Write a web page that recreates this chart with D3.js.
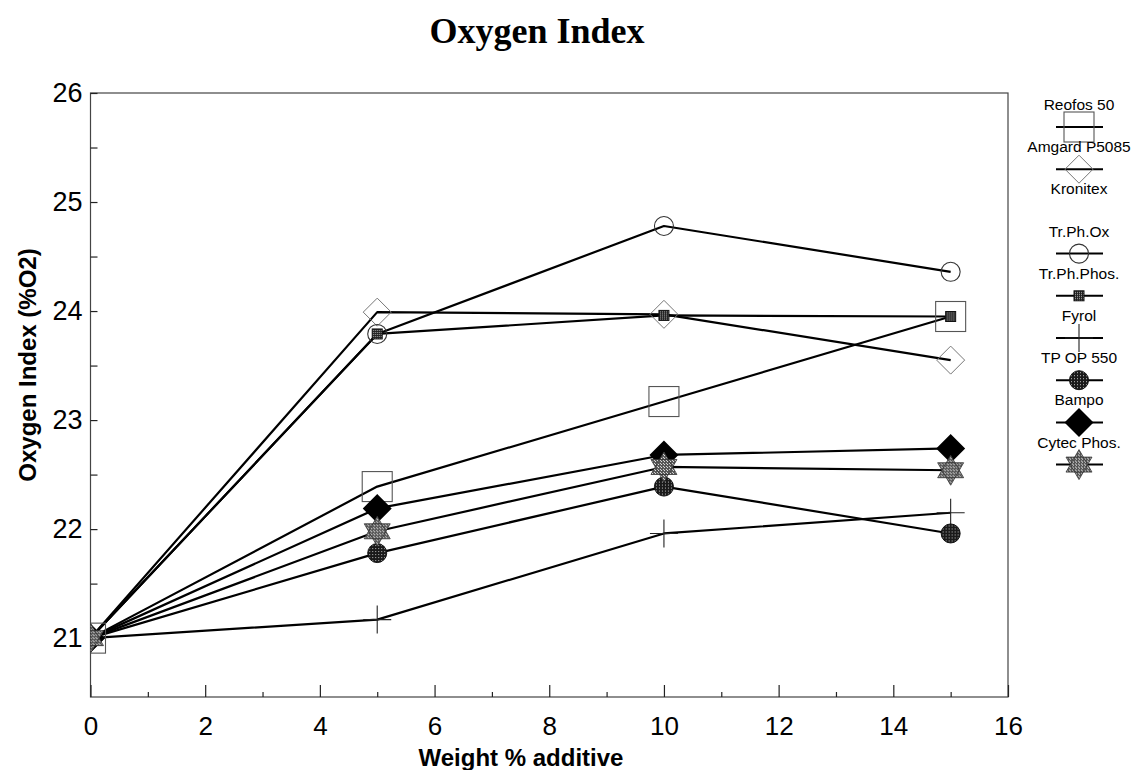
<!DOCTYPE html>
<html>
<head>
<meta charset="utf-8">
<script src="https://cdn.jsdelivr.net/npm/d3@7/dist/d3.min.js"></script>
<style>
  html, body { margin: 0; padding: 0; background: #fff; }
  svg { display: block; }
</style>
</head>
<body>
<svg id="chart" width="1137" height="770"></svg>
<script>
// ---------------- data ----------------
const xValues = [0, 5, 10, 15];
const seriesNames = ["Reofos 50", "Amgard P5085", "Kronitex", "Tr.Ph.Ox", "Tr.Ph.Phos.", "Fyrol", "TP OP 550", "Bampo", "Cytec Phos."];
const reofos50  = [21, 22.39, 23.17, 23.95];
const amgard    = [21, 23.99, 23.97, 23.55];
const kronitex  = [];
const trPhOx    = [21, 23.79, 24.78, 24.36];
const trPhPhos  = [21, 23.79, 23.96, 23.95];
const fyrol     = [21, 21.17, 21.96, 22.15];
const tpop550   = [21, 21.78, 22.39, 21.96];
const bampo     = [21, 22.19, 22.68, 22.74];
const cytecPhos = [21, 21.98, 22.57, 22.54];
const seriesValues = [reofos50, amgard, kronitex, trPhOx, trPhPhos, fyrol, tpop550, bampo, cytecPhos];
const markerTypes = ["square", "diamondOpen", "none", "circleOpen", "smallSquare", "plus", "circleDots", "diamondFilled", "hexagram"];
const xMajorTicks = [0, 2, 4, 6, 8, 10, 12, 14, 16];
const yTickValues = [21, 21.5, 22, 22.5, 23, 23.5, 24, 24.5, 25, 25.5, 26];
const titleText = "Oxygen Index";
const xTitle = "Weight % additive";
const yTitle = "Oxygen Index (%O2)";

// ---------------- layout ----------------
const svg = d3.select("#chart");
const plot = { left: 90.5, right: 1008, top: 93, bottom: 697 };
const x = d3.scaleLinear().domain([0, 16]).range([plot.left, plot.right]);
const y = d3.scaleLinear().domain([20.46, 26]).range([plot.bottom, plot.top]);

const defs = svg.append("defs");
defs.append("clipPath").attr("id", "plotClip")
  .append("rect").attr("x", plot.left).attr("y", plot.top)
  .attr("width", plot.right - plot.left).attr("height", plot.bottom - plot.top);

// patterns
const pDots = defs.append("pattern").attr("id", "dots").attr("patternUnits", "userSpaceOnUse")
  .attr("width", 3).attr("height", 3);
pDots.append("rect").attr("width", 3).attr("height", 3).attr("fill", "#1a1a1a");
pDots.append("rect").attr("x", 1).attr("y", 1).attr("width", 1).attr("height", 1).attr("fill", "#bbb");

const pHatch = defs.append("pattern").attr("id", "hatch").attr("patternUnits", "userSpaceOnUse")
  .attr("width", 3).attr("height", 3);
pHatch.append("rect").attr("width", 3).attr("height", 3).attr("fill", "#555");
pHatch.append("rect").attr("x", 0).attr("y", 0).attr("width", 1).attr("height", 1).attr("fill", "#eee");
pHatch.append("rect").attr("x", 2).attr("y", 2).attr("width", 1).attr("height", 1).attr("fill", "#ddd");

const pCheck = defs.append("pattern").attr("id", "check").attr("patternUnits", "userSpaceOnUse")
  .attr("width", 2).attr("height", 2);
pCheck.append("rect").attr("width", 2).attr("height", 2).attr("fill", "#222");
pCheck.append("rect").attr("x", 0).attr("y", 0).attr("width", 1).attr("height", 1).attr("fill", "#aaa");

// ---------------- title ----------------
svg.append("text").attr("x", 537).attr("y", 43).attr("text-anchor", "middle")
  .attr("font-family", "'Liberation Serif', 'Times New Roman', serif")
  .attr("font-weight", "bold").attr("font-size", 36).attr("fill", "#000").text(titleText);

// ---------------- frame ----------------
svg.append("rect").attr("x", plot.left).attr("y", plot.top)
  .attr("width", plot.right - plot.left).attr("height", plot.bottom - plot.top)
  .attr("fill", "none").attr("stroke", "#444").attr("stroke-width", 1.2);

// ---------------- axes ----------------
const fontSans = "'Liberation Sans', Arial, Helvetica, sans-serif";

const xMajor = svg.append("g").attr("transform", `translate(0,${plot.bottom})`)
  .call(d3.axisBottom(x).tickValues(xMajorTicks).tickSize(-12).tickPadding(20).tickFormat(d3.format("d")));
const xMinor = svg.append("g").attr("transform", `translate(0,${plot.bottom})`)
  .call(d3.axisBottom(x).tickValues(d3.range(1, 16, 2)).tickSize(-5).tickFormat(""));
const yAxis = svg.append("g").attr("transform", `translate(${plot.left},0)`)
  .call(d3.axisLeft(y).tickValues(yTickValues).tickSize(-7).tickPadding(8)
    .tickFormat(d => Number.isInteger(d) ? d3.format("d")(d) : ""));

[xMajor, xMinor, yAxis].forEach(g => {
  g.select(".domain").remove();
  g.selectAll("line").attr("stroke", "#222").attr("stroke-width", 1.2);
  g.selectAll("text").attr("font-family", fontSans).attr("fill", "#000");
});
xMajor.selectAll("text").attr("font-size", 26);
yAxis.selectAll("text").attr("font-size", 27);

// axis titles
svg.append("text").attr("x", 521).attr("y", 766).attr("text-anchor", "middle")
  .attr("font-family", fontSans).attr("font-weight", "bold").attr("font-size", 24)
  .attr("fill", "#000").text(xTitle);
svg.append("text").attr("transform", "translate(36,365) rotate(-90)").attr("text-anchor", "middle")
  .attr("font-family", fontSans).attr("font-weight", "bold").attr("font-size", 24)
  .attr("fill", "#000").text(yTitle);

// ---------------- markers ----------------
function hexagramPath(r) {
  const pts = a => d3.range(3).map(i => {
    const ang = a + i * 2 * Math.PI / 3;
    return [r * Math.sin(ang), -r * Math.cos(ang)];
  });
  const t1 = pts(0), t2 = pts(Math.PI);
  return "M" + t1.join("L") + "Z" + "M" + t2.join("L") + "Z";
}

function drawMarker(g, type) {
  switch (type) {
    case "square":
      g.append("rect").attr("x", -15).attr("y", -15).attr("width", 30).attr("height", 30)
        .attr("fill", "none").attr("stroke", "#555").attr("stroke-width", 1.1);
      break;
    case "diamondOpen":
      g.append("path").attr("d", "M0,-14L14,0L0,14L-14,0Z")
        .attr("fill", "none").attr("stroke", "#777").attr("stroke-width", 1);
      break;
    case "circleOpen":
      g.append("circle").attr("r", 9.5).attr("fill", "none").attr("stroke", "#333").attr("stroke-width", 1.1);
      break;
    case "smallSquare":
      g.append("rect").attr("x", -5).attr("y", -5).attr("width", 10).attr("height", 10)
        .attr("fill", "url(#check)").attr("stroke", "#111").attr("stroke-width", 1);
      break;
    case "plus":
      g.append("path").attr("d", "M-14,0H14M0,-14V14").attr("stroke", "#222").attr("stroke-width", 1.1);
      break;
    case "circleDots":
      g.append("circle").attr("r", 9.5).attr("fill", "url(#dots)").attr("stroke", "#111").attr("stroke-width", 1);
      break;
    case "diamondFilled":
      g.append("path").attr("d", "M0,-14.5L14.5,0L0,14.5L-14.5,0Z").attr("fill", "#000");
      break;
    case "hexagram":
      g.append("path").attr("d", hexagramPath(15)).attr("fill", "url(#hatch)")
        .attr("stroke", "#333").attr("stroke-width", 0.8);
      break;
    default:
      break;
  }
}

// ---------------- series ----------------
const series = seriesNames.map((name, i) => ({
  name, type: markerTypes[i],
  points: seriesValues[i].map((v, j) => ({ x: xValues[j], y: v }))
}));

const plotG = svg.append("g").attr("clip-path", "url(#plotClip)");
const line = d3.line().x(d => x(d.x)).y(d => y(d.y));

plotG.selectAll("path.series").data(series.filter(s => s.points.length)).enter()
  .append("path").attr("class", "series")
  .attr("d", d => line(d.points))
  .attr("fill", "none").attr("stroke", "#000").attr("stroke-width", 2.2)
  .attr("stroke-linejoin", "round");

series.forEach(s => {
  s.points.forEach(p => {
    const g = plotG.append("g").attr("transform", `translate(${x(p.x)},${y(p.y)})`);
    drawMarker(g, s.type);
  });
});

// ---------------- legend ----------------
const legend = svg.append("g");
const legX = 1079, legTop = 105, legStep = 42.2;
series.forEach((s, i) => {
  const ty = legTop + i * legStep;
  legend.append("text").attr("x", legX).attr("y", ty + 5).attr("text-anchor", "middle")
    .attr("font-family", fontSans).attr("font-size", 15.5).attr("fill", "#000").text(s.name);
  if (s.type !== "none") {
    const sy = ty + 22;
    legend.append("line").attr("x1", legX - 23).attr("x2", legX + 24).attr("y1", sy).attr("y2", sy)
      .attr("stroke", "#000").attr("stroke-width", 2);
    const g = legend.append("g").attr("transform", `translate(${legX},${sy})`);
    drawMarker(g, s.type);
  }
});
</script>
</body>
</html>
